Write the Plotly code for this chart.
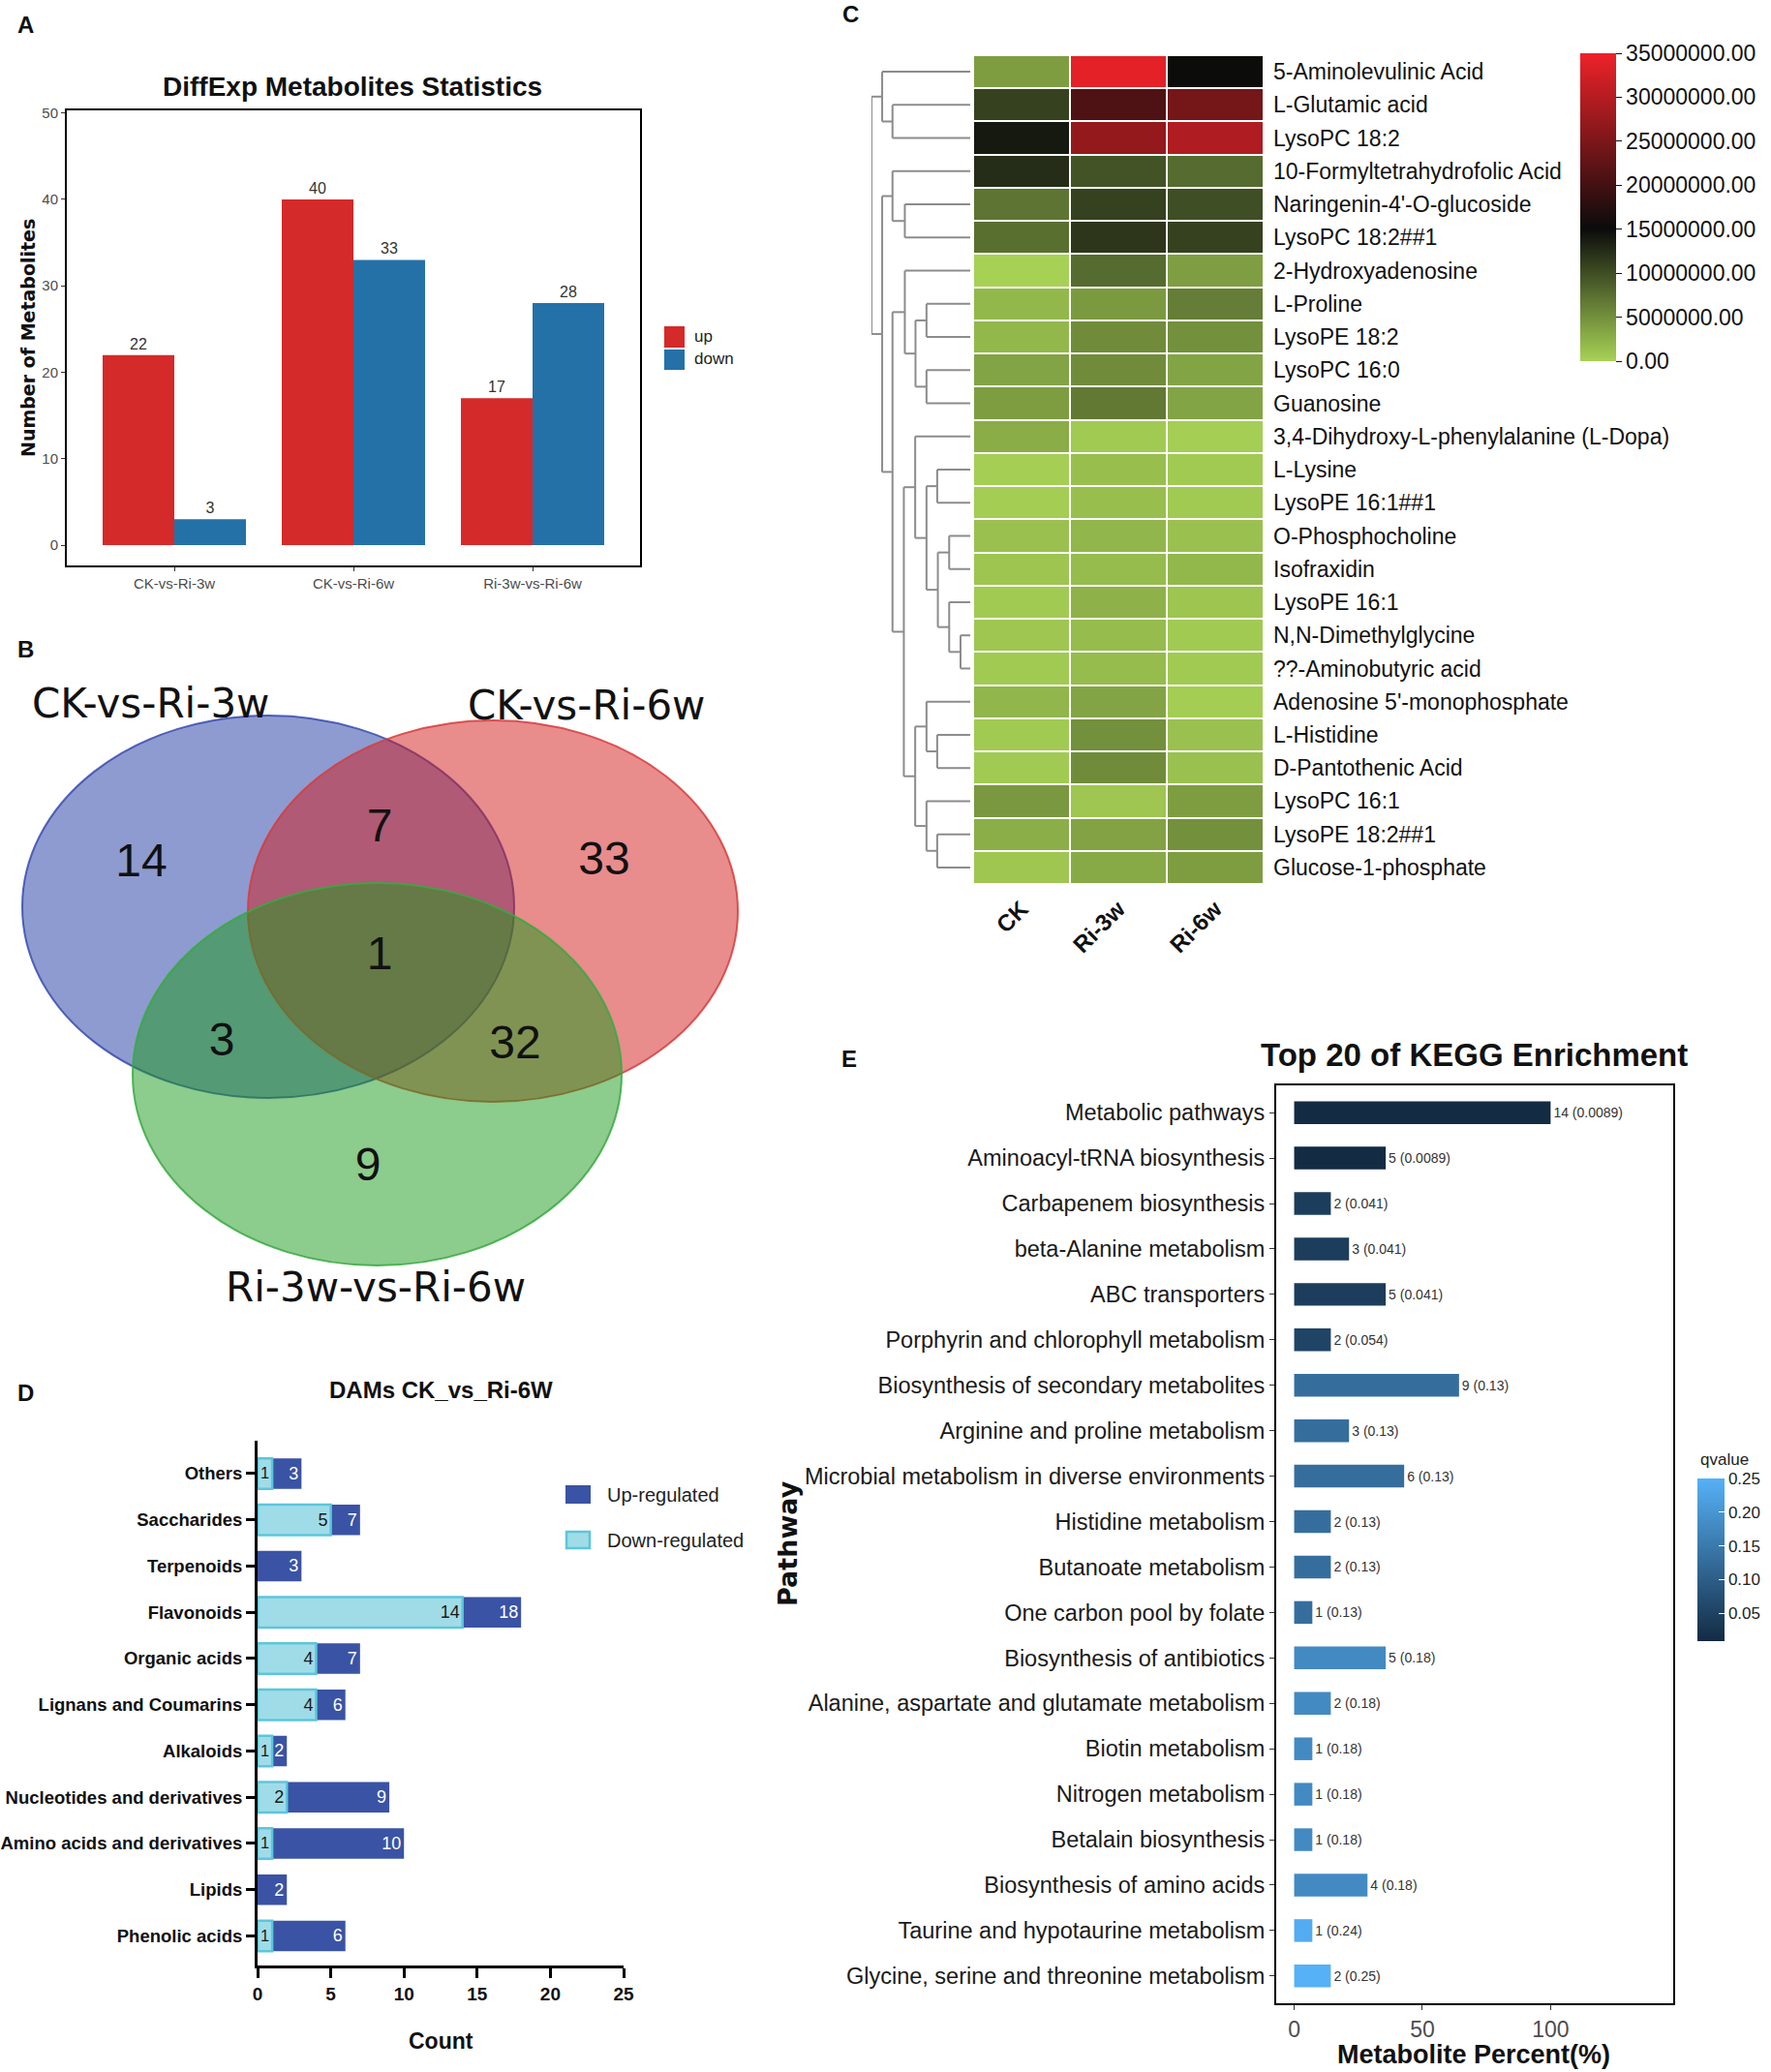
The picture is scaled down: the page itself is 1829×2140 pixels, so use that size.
import plotly.graph_objects as go

W, H = 1829, 2140
def fx(px): return px / W
def fy(py): return 1 - py / H

SANS = "Liberation Sans, Arial, sans-serif"
DEJAVU = "DejaVu Sans, sans-serif"

# ---------------- Panel A data ----------------
a_groups = ["CK-vs-Ri-3w", "CK-vs-Ri-6w", "Ri-3w-vs-Ri-6w"]
a_up = [22, 40, 17]
a_down = [3, 33, 28]

# ---------------- Panel B data ----------------
venn_sets = ["CK-vs-Ri-3w", "CK-vs-Ri-6w", "Ri-3w-vs-Ri-6w"]
venn_regions = ["3w only", "3w & 6w", "6w only", "all", "3w & 3w-6w", "6w & 3w-6w", "3w-6w only"]
venn_counts = [14, 7, 33, 1, 3, 32, 9]

# ---------------- Panel C data ----------------
hm_samples = ["CK", "Ri-3w", "Ri-6w"]
hm_metabolites = [
    "5-Aminolevulinic Acid", "L-Glutamic acid", "LysoPC 18:2", "10-Formyltetrahydrofolic Acid",
    "Naringenin-4'-O-glucoside", "LysoPC 18:2##1", "2-Hydroxyadenosine", "L-Proline",
    "LysoPE 18:2", "LysoPC 16:0", "Guanosine", "3,4-Dihydroxy-L-phenylalanine (L-Dopa)",
    "L-Lysine", "LysoPE 16:1##1", "O-Phosphocholine", "Isofraxidin", "LysoPE 16:1",
    "N,N-Dimethylglycine", "??-Aminobutyric acid", "Adenosine 5'-monophosphate", "L-Histidine",
    "D-Pantothenic Acid", "LysoPC 16:1", "LysoPE 18:2##1", "Glucose-1-phosphate",
]
hm_ck = [4.0e6, 11.0e6, 14.0e6, 12.5e6, 7.1e6, 7.5e6, 0.1e6, 2.0e6, 2.0e6, 3.5e6, 4.0e6, 2.8e6,
         0.3e6, 0.4e6, 1.3e6, 1.0e6, 0.6e6, 0.9e6, 0.6e6, 2.1e6, 0.6e6, 0.6e6, 4.4e6, 2.7e6, 0.9e6]
hm_ri3w = [34.0e6, 21.0e6, 27.0e6, 9.6e6, 11.0e6, 11.8e6, 7.8e6, 4.2e6, 5.3e6, 5.3e6, 6.7e6, 0.6e6,
           1.4e6, 1.4e6, 2.1e6, 1.7e6, 2.4e6, 1.7e6, 1.7e6, 3.5e6, 5.0e6, 5.3e6, 0.9e6, 3.6e6, 3.0e6]
hm_ri6w = [15.0e6, 24.4e6, 29.5e6, 7.8e6, 10.0e6, 11.0e6, 3.9e6, 6.4e6, 5.0e6, 3.5e6, 3.5e6, 0.3e6,
           0.6e6, 0.6e6, 1.3e6, 2.0e6, 1.0e6, 0.6e6, 0.6e6, 0.4e6, 1.3e6, 1.3e6, 4.0e6, 5.0e6, 4.0e6]
hm_ticks = [0, 5e6, 10e6, 15e6, 20e6, 25e6, 30e6, 35e6]
# row clustering: (child a, child b, merge height); leaves 0..24, new clusters numbered from 25
dendro_merges = [
    (17, 18, 30), (14, 15, 65), (16, 25, 65), (12, 13, 102), (26, 27, 100), (28, 29, 135),
    (11, 30, 170), (20, 21, 102), (19, 32, 135), (23, 24, 102), (22, 34, 135), (33, 35, 170),
    (31, 36, 205), (7, 8, 135), (9, 10, 135), (38, 39, 169), (6, 40, 202), (41, 37, 240),
    (4, 5, 202), (3, 43, 240), (44, 42, 272), (1, 2, 240), (0, 46, 272), (47, 45, 305),
]

# ---------------- Panel D data ----------------
d_classes = ["Others", "Saccharides", "Terpenoids", "Flavonoids", "Organic acids",
             "Lignans and Coumarins", "Alkaloids", "Nucleotides and derivatives",
             "Amino acids and derivatives", "Lipids", "Phenolic acids"]
d_up = [3, 7, 3, 18, 7, 6, 2, 9, 10, 2, 6]
d_down = [1, 5, 0, 14, 4, 4, 1, 2, 1, 0, 1]
d_ticks = [0, 5, 10, 15, 20, 25]

# ---------------- Panel E data ----------------
e_pathways = [
    "Metabolic pathways", "Aminoacyl-tRNA biosynthesis", "Carbapenem biosynthesis",
    "beta-Alanine metabolism", "ABC transporters", "Porphyrin and chlorophyll metabolism",
    "Biosynthesis of secondary metabolites", "Arginine and proline metabolism",
    "Microbial metabolism in diverse environments", "Histidine metabolism",
    "Butanoate metabolism", "One carbon pool by folate", "Biosynthesis of antibiotics",
    "Alanine, aspartate and glutamate metabolism", "Biotin metabolism", "Nitrogen metabolism",
    "Betalain biosynthesis", "Biosynthesis of amino acids", "Taurine and hypotaurine metabolism",
    "Glycine, serine and threonine metabolism",
]
e_counts = [14, 5, 2, 3, 5, 2, 9, 3, 6, 2, 2, 1, 5, 2, 1, 1, 1, 4, 1, 2]
e_percent = [100, 35.7, 14.3, 21.4, 35.7, 14.3, 64.3, 21.4, 42.9, 14.3, 14.3, 7.1, 35.7, 14.3,
             7.1, 7.1, 7.1, 28.6, 7.1, 14.3]
e_qvalue = [0.0089, 0.0089, 0.041, 0.041, 0.041, 0.054, 0.13, 0.13, 0.13, 0.13, 0.13, 0.13,
            0.18, 0.18, 0.18, 0.18, 0.18, 0.18, 0.24, 0.25]
e_xticks = [0, 50, 100]
e_qticks = [0.05, 0.10, 0.15, 0.20, 0.25]

fig = go.Figure()

# ---------------- Panel A ----------------
RED, BLUE = "#D42A29", "#2471A8"
fig.add_trace(go.Bar(x=a_groups, y=a_up, name="up", marker=dict(color=RED, line=dict(width=0)),
                     width=0.4, offset=-0.4, text=a_up, textposition="outside",
                     textfont=dict(family=SANS, size=16, color="#333"), cliponaxis=False,
                     xaxis="x", yaxis="y", showlegend=False))
fig.add_trace(go.Bar(x=a_groups, y=a_down, name="down", marker=dict(color=BLUE, line=dict(width=0)),
                     width=0.4, offset=0.0, text=a_down, textposition="outside",
                     textfont=dict(family=SANS, size=16, color="#333"), cliponaxis=False,
                     xaxis="x", yaxis="y", showlegend=False))

# ---------------- Panel B (Venn) ----------------
venn_text_xy = [(146, 893), (392, 857), (624, 891), (392, 989), (229, 1078), (532, 1081), (380, 1207)]
fig.add_trace(go.Scatter(x=[p[0] for p in venn_text_xy], y=[p[1] for p in venn_text_xy],
                         mode="text", text=[str(c) for c in venn_counts],
                         textfont=dict(family=SANS, size=48, color="#111"),
                         xaxis="x2", yaxis="y2", showlegend=False, hoverinfo="skip"))

# ---------------- Panel C (heatmap + dendrogram) ----------------
z = [list(r) for r in zip(hm_ck, hm_ri3w, hm_ri6w)]
fig.add_trace(go.Heatmap(z=z, x=hm_samples, y=hm_metabolites, coloraxis="coloraxis",
                         xgap=2, ygap=2, xaxis="x3", yaxis="y3"))

n = len(hm_metabolites)
pos = {i: float(i) for i in range(n)}
hgt = {i: 0.0 for i in range(n)}
dx, dy = [], []
for k, (a, b, h) in enumerate(dendro_merges):
    for c in (a, b):
        dx += [hgt[c], h, None]
        dy += [pos[c], pos[c], None]
    dx += [h, h, None]
    dy += [pos[a], pos[b], None]
    pos[n + k] = (pos[a] + pos[b]) / 2
    hgt[n + k] = h
fig.add_trace(go.Scatter(x=dx, y=dy, mode="lines", line=dict(color="#8C8C8C", width=2),
                         xaxis="x4", yaxis="y4", showlegend=False, hoverinfo="skip"))

# ---------------- Panel D ----------------
DARK, LIGHT, LIGHTEDGE = "#3A53A4", "#A0DCE8", "#5CC6DA"
fig.add_trace(go.Bar(y=d_classes, x=d_up, orientation="h", width=0.66, offset=-0.33,
                     marker=dict(color=DARK, line=dict(width=0)),
                     text=[str(v) for v in d_up], textposition="inside", insidetextanchor="end",
                     textangle=0, textfont=dict(family=SANS, size=18, color="white"),
                     xaxis="x5", yaxis="y5", showlegend=False))
fig.add_trace(go.Bar(y=d_classes, x=[v if v else None for v in d_down], orientation="h",
                     width=0.66, offset=-0.33,
                     marker=dict(color=LIGHT, line=dict(width=2.5, color=LIGHTEDGE)),
                     text=[str(v) if v else "" for v in d_down], textposition="inside",
                     insidetextanchor="end", textangle=0,
                     textfont=dict(family=SANS, size=18, color="#1a1a1a"),
                     xaxis="x5", yaxis="y5", showlegend=False))

# ---------------- Panel E ----------------
fig.add_trace(go.Bar(y=e_pathways, x=e_percent, orientation="h", width=0.5,
                     marker=dict(color=e_qvalue, coloraxis="coloraxis2", line=dict(width=0)),
                     text=[f"{c} ({q:g})" for c, q in zip(e_counts, e_qvalue)],
                     textposition="outside", textfont=dict(family=SANS, size=14, color="#333"),
                     cliponaxis=False, xaxis="x6", yaxis="y6", showlegend=False))

# ---------------- Shapes ----------------
shapes = []
# Venn ellipses (in pixel-like data coordinates of x2/y2)
shapes.append(dict(type="circle", xref="x2", yref="y2", x0=23, x1=531, y0=739, y1=1134, layer="below",
                   fillcolor="rgba(29,55,161,0.5)", line=dict(color="rgba(55,75,175,0.85)", width=2)))
shapes.append(dict(type="circle", xref="x2", yref="y2", x0=256, x1=762, y0=744, y1=1138, layer="below",
                   fillcolor="rgba(209,25,25,0.5)", line=dict(color="rgba(215,60,60,0.85)", width=2)))
shapes.append(dict(type="circle", xref="x2", yref="y2", x0=137, x1=642, y0=912, y1=1307, layer="below",
                   fillcolor="rgba(25,153,25,0.5)", line=dict(color="rgba(55,170,65,0.85)", width=2)))
# Legend A
shapes.append(dict(type="rect", xref="paper", yref="paper", x0=fx(686), x1=fx(707), y0=fy(359), y1=fy(337),
                   fillcolor=RED, line=dict(width=0)))
shapes.append(dict(type="rect", xref="paper", yref="paper", x0=fx(686), x1=fx(707), y0=fy(382), y1=fy(361),
                   fillcolor=BLUE, line=dict(width=0)))
# Legend D
shapes.append(dict(type="rect", xref="paper", yref="paper", x0=fx(584), x1=fx(610), y0=fy(1553), y1=fy(1534),
                   fillcolor=DARK, line=dict(width=0)))
shapes.append(dict(type="rect", xref="paper", yref="paper", x0=fx(585), x1=fx(609), y0=fy(1599), y1=fy(1582),
                   fillcolor=LIGHT, line=dict(width=2.5, color=LIGHTEDGE)))

# ---------------- Annotations ----------------
def ann(text, px, py, size, family=SANS, bold=False, angle=0, xanchor="center", color="#111"):
    return dict(text=text, x=fx(px), y=fy(py), xref="paper", yref="paper", showarrow=False,
                xanchor=xanchor, yanchor="middle", textangle=angle,
                font=dict(family=family, size=size, color=color, weight="bold" if bold else "normal"))

annotations = [
    ann("A", 26, 25, 24, bold=True), ann("B", 26, 670, 24, bold=True), ann("C", 878, 15, 24, bold=True),
    ann("D", 26, 1438, 24, bold=True), ann("E", 877, 1093, 24, bold=True),
    ann("DiffExp Metabolites Statistics", 364, 90, 28, bold=True),
    ann("Number of Metabolites", 29, 349, 19, family=DEJAVU, bold=True, angle=-90),
    ann("up", 715, 348, 17, xanchor="left", color="#222"),
    ann("down", 715, 371, 17, xanchor="left", color="#222"),
    ann(venn_sets[0], 155, 727, 42, family=DEJAVU),
    ann(venn_sets[1], 605, 728, 42, family=DEJAVU),
    ann(venn_sets[2], 388, 1329, 42, family=DEJAVU),
    ann("DAMs CK_vs_Ri-6W", 455, 1435, 24, bold=True),
    ann("Count", 455, 2108, 23, bold=True),
    ann("Up-regulated", 625, 1544, 20, xanchor="left", color="#222"),
    ann("Down-regulated", 625, 1591, 20, xanchor="left", color="#222"),
    ann("Top 20 of KEGG Enrichment", 1522, 1089, 33, bold=True),
    ann("Pathway", 813, 1594, 27, family=DEJAVU, bold=True, angle=-90),
    ann("Metabolite Percent(%)", 1522, 2122, 27, bold=True),
    ann("qvalue", 1754, 1507, 17, xanchor="left", color="#222"),
]

fig.update_layout(
    width=W, height=H, autosize=False, margin=dict(l=0, r=0, t=0, b=0, autoexpand=False),
    paper_bgcolor="white", plot_bgcolor="white", showlegend=False,
    font=dict(family=SANS, color="#111"),
    barmode="overlay",
    shapes=shapes, annotations=annotations,
    # Panel A
    xaxis=dict(domain=[fx(69), fx(661)], anchor="y", range=[-0.6, 2.6], type="category",
               categoryorder="array", categoryarray=a_groups, automargin=False,
               showline=True, mirror=True, linecolor="black", linewidth=2, showgrid=False,
               ticks="outside", ticklen=4, tickcolor="#333",
               tickfont=dict(family=SANS, size=15, color="#4d4d4d")),
    yaxis=dict(domain=[fy(584), fy(114)], anchor="x", range=[-2.35, 50.3], automargin=False,
               tickvals=[0, 10, 20, 30, 40, 50], showline=True, mirror=True, linecolor="black",
               linewidth=2, showgrid=False, zeroline=False, ticks="outside", ticklen=4,
               tickcolor="#333", tickfont=dict(family=SANS, size=15, color="#4d4d4d")),
    # Panel B
    xaxis2=dict(domain=[0, fx(800)], anchor="y2", range=[0, 800], visible=False, automargin=False),
    yaxis2=dict(domain=[fy(1360), fy(640)], anchor="x2", range=[1360, 640], visible=False, automargin=False),
    # Panel C heatmap
    xaxis3=dict(domain=[fx(1005), fx(1305)], anchor="y3", type="category", automargin=False,
                categoryorder="array", categoryarray=hm_samples, tickangle=-45, ticks="",
                showgrid=False, zeroline=False, showline=False, ticklabelstandoff=6,
                tickfont=dict(family=SANS, size=24, color="#111", weight="bold")),
    yaxis3=dict(domain=[fy(913), fy(57)], anchor="x3", side="right", type="category", automargin=False,
                categoryorder="array", categoryarray=hm_metabolites, range=[n - 0.5, -0.5],
                ticks="", showgrid=False, zeroline=False, showline=False, ticklabelstandoff=9,
                tickfont=dict(family=SANS, size=23, color="#111")),
    # Panel C dendrogram
    xaxis4=dict(domain=[fx(900), fx(1002)], anchor="y4", range=[305, 0], visible=False, automargin=False),
    yaxis4=dict(domain=[fy(913), fy(57)], anchor="x4", range=[n - 0.5, -0.5], visible=False, automargin=False),
    # Panel D
    xaxis5=dict(domain=[fx(266), fx(644)], anchor="y5", range=[0, 25], tickvals=d_ticks, automargin=False,
                showline=True, linecolor="black", linewidth=3, showgrid=False, zeroline=False,
                ticks="outside", ticklen=10, tickwidth=3, tickcolor="black",
                tickfont=dict(family=SANS, size=19, color="#111", weight="bold")),
    yaxis5=dict(domain=[fy(2030), fy(1488)], anchor="x5", type="category", categoryorder="array",
                categoryarray=d_classes, range=[len(d_classes) - 0.36, -0.71], automargin=False,
                showline=True, linecolor="black", linewidth=3, showgrid=False, zeroline=False,
                ticks="outside", ticklen=9, tickwidth=3, tickcolor="black",
                tickfont=dict(family=SANS, size=18.5, color="#111", weight="bold")),
    # Panel E
    xaxis6=dict(domain=[fx(1318), fx(1728)], anchor="y6", range=[-7, 147.8], tickvals=e_xticks,
                showline=True, mirror=True, linecolor="black", linewidth=2, showgrid=False,
                zeroline=False, ticks="outside", ticklen=5, tickcolor="#333", automargin=False,
                tickfont=dict(family=SANS, size=23, color="#4d4d4d")),
    yaxis6=dict(domain=[fy(2069), fy(1121)], anchor="x6", type="category", categoryorder="array",
                categoryarray=e_pathways, range=[len(e_pathways) - 0.4, -0.6], automargin=False,
                showline=True, mirror=True, linecolor="black", linewidth=2, showgrid=False,
                zeroline=False, ticks="outside", ticklen=5, tickcolor="#333",
                tickfont=dict(family=SANS, size=23.5, color="#1a1a1a")),
    coloraxis=dict(
        cmin=0, cmax=35e6,
        colorscale=[[0, "#A7D255"], [0.43, "#0B0B0B"], [1, "#EE2229"]],
        colorbar=dict(x=fx(1632), xanchor="left", y=fy(55), yanchor="top",
                      len=318, lenmode="pixels", thickness=37, thicknessmode="pixels",
                      xpad=0, ypad=0, outlinewidth=0, tickvals=hm_ticks, tickformat=".2f",
                      ticks="outside", ticklen=6, tickcolor="#111",
                      tickfont=dict(family=SANS, size=23, color="#111")),
    ),
    coloraxis2=dict(
        cmin=0.0089, cmax=0.25,
        colorscale=[[0, "#132B43"], [1, "#56B1F7"]],
        colorbar=dict(x=fx(1753), xanchor="left", y=fy(1527), yanchor="top",
                      len=168, lenmode="pixels", thickness=28, thicknessmode="pixels",
                      xpad=0, ypad=0, outlinewidth=0, tickvals=e_qticks,
                      ticktext=[f"{t:.2f}" for t in e_qticks],
                      ticks="inside", ticklen=6, tickcolor="white",
                      tickfont=dict(family=SANS, size=17, color="#222")),
    ),
)

fig.write_html("out.html", config={"displayModeBar": False},
               post_script="document.body.style.margin='0';document.body.style.overflow='hidden';")
